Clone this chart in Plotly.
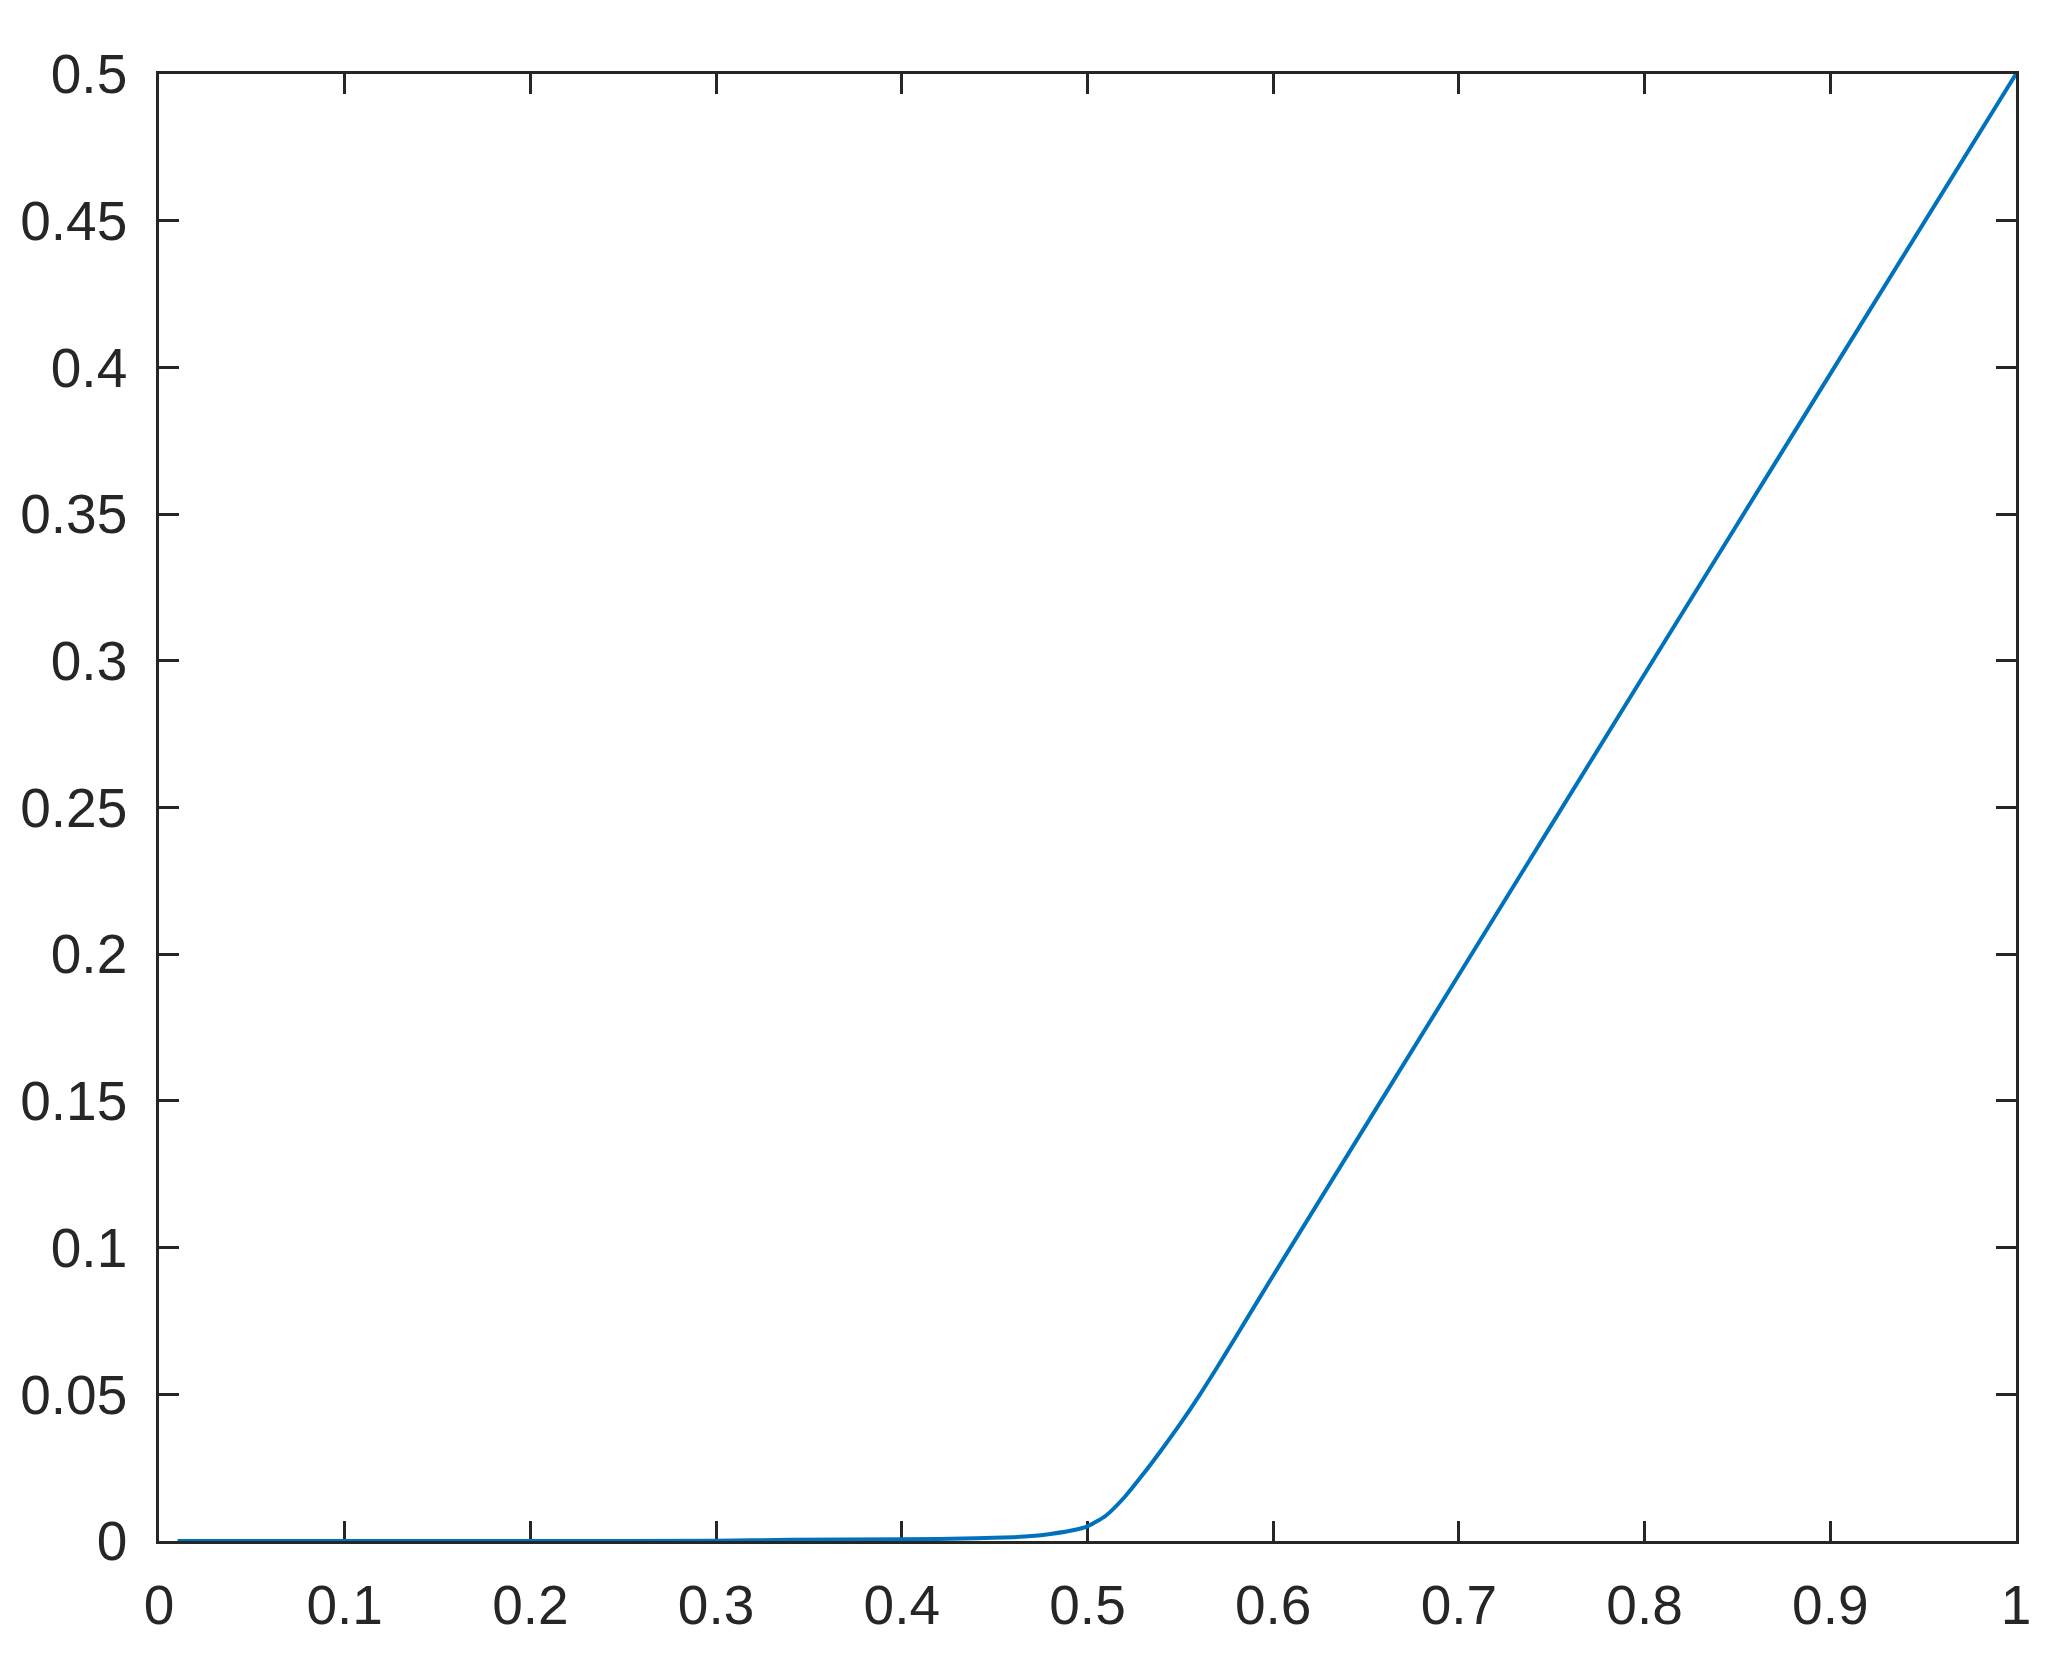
import plotly.graph_objects as go

# Data
x_vals = [0.01, 0.10, 0.20, 0.30, 0.34, 0.40, 0.44, 0.46, 0.47, 0.48, 0.49, 0.50,
          0.51, 0.52, 0.53, 0.54, 0.55, 0.56, 0.57, 0.58, 0.60, 0.70, 0.80, 0.90, 1.00]
y_vals = [0.0, 0.0, 0.0, 0.0001, 0.0004, 0.0006, 0.0009, 0.0013, 0.0017, 0.0024, 0.0034, 0.0050,
          0.0087, 0.0150, 0.0228, 0.0312, 0.0400, 0.0494, 0.0594, 0.0697, 0.0905, 0.1930, 0.2955, 0.3978, 0.5000]

x_ticks = [0, 0.1, 0.2, 0.3, 0.4, 0.5, 0.6, 0.7, 0.8, 0.9, 1]
x_tick_labels = ["0", "0.1", "0.2", "0.3", "0.4", "0.5", "0.6", "0.7", "0.8", "0.9", "1"]
y_ticks = [0, 0.05, 0.1, 0.15, 0.2, 0.25, 0.3, 0.35, 0.4, 0.45, 0.5]
y_tick_labels = ["0", "0.05", "0.1", "0.15", "0.2", "0.25", "0.3", "0.35", "0.4", "0.45", "0.5"]

AX = "#262626"
FONT = dict(family="Liberation Sans, Arial, Helvetica, sans-serif", size=55, color=AX)

fig = go.Figure()
fig.add_trace(go.Scatter(x=x_vals, y=y_vals, mode="lines",
                         line=dict(color="#0072BD", width=4, shape="spline", smoothing=0.6),
                         showlegend=False, cliponaxis=False))

axis_common = dict(showline=True, linecolor=AX, linewidth=2.5, mirror="ticks",
                   ticks="inside", ticklen=20, tickwidth=2.5, tickcolor=AX,
                   showgrid=False, zeroline=False, tickfont=FONT, layer="below traces")

fig.update_xaxes(range=[0, 1], tickmode="array", tickvals=x_ticks, ticktext=x_tick_labels,
                 ticklabelstandoff=14, **axis_common)
fig.update_yaxes(range=[0, 0.5], tickmode="array", tickvals=y_ticks, ticktext=y_tick_labels,
                 ticklabelstandoff=18, **axis_common)

fig.update_layout(width=2069, height=1676, autosize=False,
                  margin=dict(l=148, r=61, t=66, b=143),
                  plot_bgcolor="white", paper_bgcolor="white", font=FONT)

fig.write_html("out.html")
